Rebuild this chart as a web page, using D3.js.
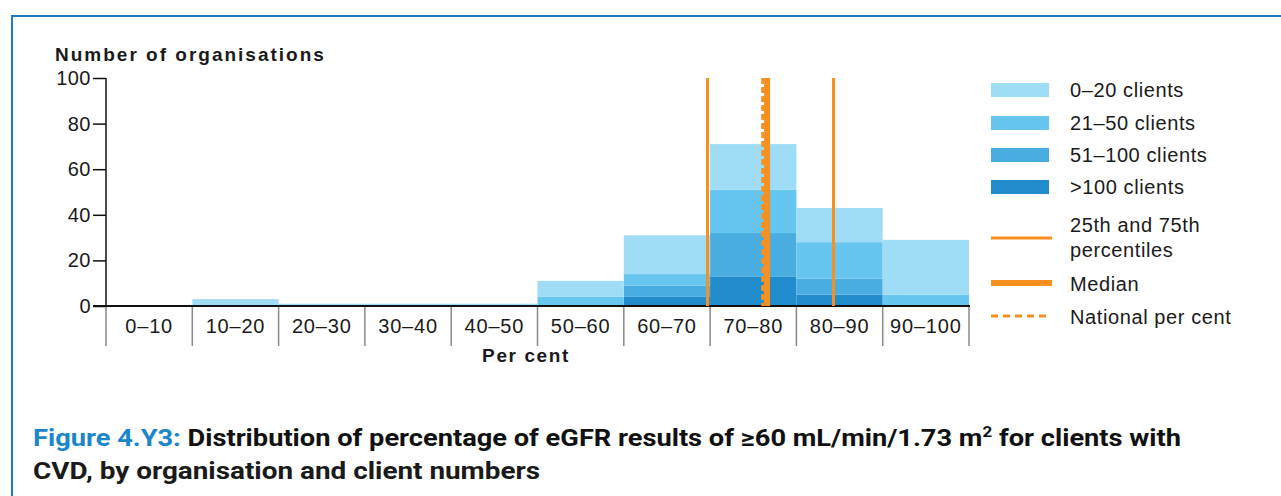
<!DOCTYPE html>
<html>
<head>
<meta charset="utf-8">
<script src="https://cdn.jsdelivr.net/npm/d3@7"></script>
<style>
  body { margin: 0; background: #fff; }
  svg text { font-family: "Liberation Sans", Arial, sans-serif; fill: #1a1a1a; }
</style>
</head>
<body>
<svg id="chart" width="1281" height="496"></svg>
<script>
// data
const categories = ["0–10","10–20","20–30","30–40","40–50","50–60","60–70","70–80","80–90","90–100"];
const clients0to20   = [0, 3, 1, 1, 1, 7, 17, 20, 15, 24];
const clients21to50  = [0, 0, 0, 0, 0, 4, 5, 19, 16, 5];
const clients51to100 = [0, 0, 0, 0, 0, 0, 5, 19, 7, 0];
const clientsOver100 = [0, 0, 0, 0, 0, 0, 4, 13, 5, 0];
const seriesNames = ["0–20 clients","21–50 clients","51–100 clients",">100 clients"];
const yTicks = [0, 20, 40, 60, 80, 100];
const percentile25 = 69.7, percentile75 = 84.3, median = 76.6, national = 76.1;

const colors = ["#9fdcf6", "#66c6ef", "#49ade0", "#228bcc"];
const orange = "#f7901e";

let svg = d3.select("#chart");

// frame (top and left rule)
svg.append("line").attr("x1", 12).attr("x2", 1281).attr("y1", 16).attr("y2", 16)
   .attr("stroke", "#1b7dc6").attr("stroke-width", 2);
svg.append("line").attr("x1", 12).attr("x2", 12).attr("y1", 15).attr("y2", 496)
   .attr("stroke", "#1b7dc6").attr("stroke-width", 2);

// scales
let x = d3.scaleBand().domain(categories).range([106, 969]).padding(0);
let xPct = d3.scaleLinear().domain([0, 100]).range([106, 969]);
let y = d3.scaleLinear().domain([0, 100]).range([306, 78]);

// stacked bars, darkest at the bottom
let rows = categories.map((c, i) => ({
  cat: c, k0: clients0to20[i], k1: clients21to50[i], k2: clients51to100[i], k3: clientsOver100[i]
}));
let stack = d3.stack().keys(["k3", "k2", "k1", "k0"])(rows);
let colorOf = {k0: colors[0], k1: colors[1], k2: colors[2], k3: colors[3]};

svg.append("g").selectAll("g")
  .data(stack)
  .enter().append("g")
  .attr("fill", d => colorOf[d.key])
  .selectAll("rect")
  .data(d => d)
  .enter().append("rect")
  .attr("x", d => x(d.data.cat))
  .attr("width", x.bandwidth())
  .attr("y", d => y(d[1]))
  .attr("height", d => y(d[0]) - y(d[1]));

// y axis
let yAxis = d3.axisLeft(y).tickValues(yTicks).tickSize(13).tickPadding(2);
let yg = svg.append("g").attr("transform", "translate(106,0)").call(yAxis);
yg.select(".domain").attr("stroke", "#111").attr("stroke-width", 1.5).attr("d", "M0,78V306");
yg.selectAll(".tick line").attr("stroke", "#111").attr("stroke-width", 1.5);
yg.selectAll(".tick text").style("font-size", "20px").attr("fill", "#1a1a1a")
  .style("letter-spacing", "0.5px")
  .attr("font-family", "Liberation Sans, Arial, sans-serif");

// x axis: separators and labels
let xg = svg.append("g");
let edges = categories.map(c => x(c)).concat([x.range()[1]]);
xg.selectAll("line.sep").data(edges).enter().append("line")
  .attr("x1", d => d).attr("x2", d => d).attr("y1", 306).attr("y2", 346)
  .attr("stroke", "#8a8a8a").attr("stroke-width", 1.5);
xg.append("line").attr("x1", 93).attr("x2", 970).attr("y1", 306).attr("y2", 306)
  .attr("stroke", "#111").attr("stroke-width", 2);
xg.selectAll("text").data(categories).enter().append("text")
  .attr("x", d => x(d) + x.bandwidth() / 2)
  .attr("y", 333)
  .attr("text-anchor", "middle")
  .style("font-size", "20px")
  .style("letter-spacing", "0.8px")
  .text(d => d);

// percentile, median and national lines
function vline(p, w, dash) {
  let l = svg.append("line")
    .attr("x1", xPct(p)).attr("x2", xPct(p))
    .attr("y1", y(100)).attr("y2", y(0))
    .attr("stroke", orange).attr("stroke-width", w);
  if (dash) l.attr("stroke-dasharray", dash);
}
vline(percentile25, 3);
vline(percentile75, 3);
vline(median, 6);
vline(national, 3, "6,3");

// axis titles
svg.append("text").text("Number of organisations")
  .attr("x", 55).attr("y", 61)
  .style("font-size", "19px").style("font-weight", "bold").style("letter-spacing", "2px");
svg.append("text").text("Per cent")
  .attr("x", 526).attr("y", 362).attr("text-anchor", "middle")
  .style("font-size", "19px").style("font-weight", "bold").style("letter-spacing", "1.6px");

// legend
let lg = svg.append("g").style("font-size", "20px").style("letter-spacing", "0.6px");
let legendY = [90, 123, 155, 187];
seriesNames.forEach((name, i) => {
  lg.append("rect").attr("x", 991).attr("y", legendY[i] - 7).attr("width", 58).attr("height", 14)
    .attr("fill", colors[i]);
  lg.append("text").attr("x", 1070).attr("y", legendY[i] + 7).text(name);
});
lg.append("line").attr("x1", 991).attr("x2", 1052).attr("y1", 238).attr("y2", 238)
  .attr("stroke", orange).attr("stroke-width", 3);
lg.append("text").attr("x", 1070).attr("y", 232).text("25th and 75th");
lg.append("text").attr("x", 1070).attr("y", 257).text("percentiles");
lg.append("line").attr("x1", 991).attr("x2", 1052).attr("y1", 283).attr("y2", 283)
  .attr("stroke", orange).attr("stroke-width", 6);
lg.append("text").attr("x", 1070).attr("y", 291).text("Median");
lg.append("line").attr("x1", 991).attr("x2", 1048).attr("y1", 316).attr("y2", 316)
  .attr("stroke", orange).attr("stroke-width", 3).attr("stroke-dasharray", "7,5");
lg.append("text").attr("x", 1070).attr("y", 324).text("National per cent");

// caption
let capFont = "'Liberation Sans Narrow', 'Roboto', sans-serif";
let line1 = svg.append("text").attr("x", 33).attr("y", 446)
  .style("font-size", "24px").style("font-weight", "bold").style("font-family", capFont)
  .attr("textLength", 1148).attr("lengthAdjust", "spacingAndGlyphs");
line1.append("tspan").attr("fill", "#1b86c8").text("Figure 4.Y3: ");
line1.append("tspan").attr("fill", "#111").text("Distribution of percentage of eGFR results of ≥60 mL/min/1.73 m");
line1.append("tspan").attr("fill", "#111").attr("dy", -9).style("font-size", "15px").text("2");
line1.append("tspan").attr("fill", "#111").attr("dy", 9).text(" for clients with");
svg.append("text").attr("x", 33).attr("y", 479)
  .style("font-size", "24px").style("font-weight", "bold").style("font-family", capFont)
  .attr("fill", "#111")
  .attr("textLength", 507).attr("lengthAdjust", "spacingAndGlyphs")
  .text("CVD, by organisation and client numbers");
</script>
</body>
</html>
